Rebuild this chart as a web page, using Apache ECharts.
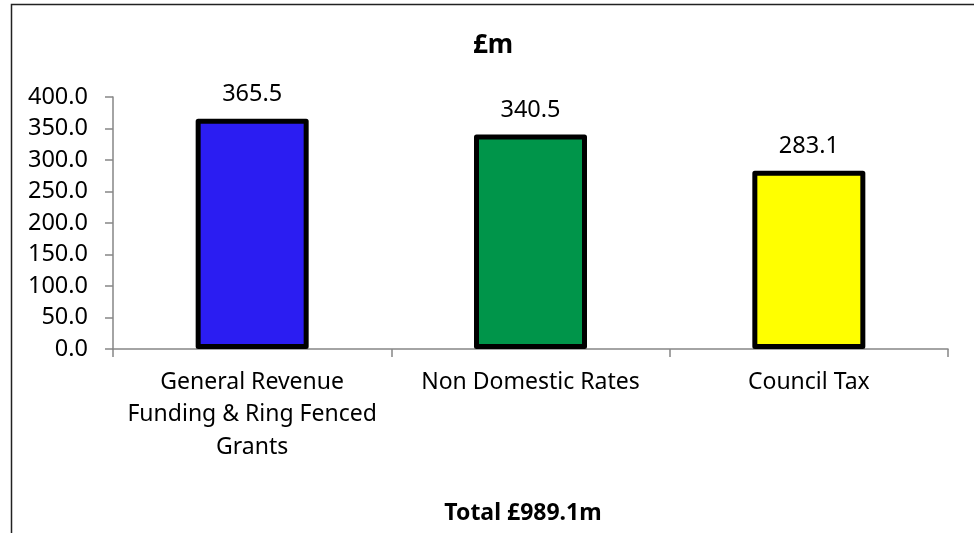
<!DOCTYPE html>
<html>
<head>
<meta charset="utf-8">
<script src="https://cdn.jsdelivr.net/npm/echarts@6/dist/echarts.min.js"></script>
<style>
  html, body { margin: 0; padding: 0; background: #fff; }
  #chart { width: 974px; height: 533px; }
</style>
</head>
<body>
<div id="chart"></div>
<script>
// chart data
const categories = ['General Revenue\nFunding & Ring Fenced\nGrants', 'Non Domestic Rates', 'Council Tax']
const values = [365.5, 340.5, 283.1]
const barColors = ['#2B1DF2', '#00954A', '#FFFF00']
const titleText = '£m'
const totalText = 'Total £989.1m'

const font = '"Noto Sans", "Open Sans", sans-serif'
const chart = echarts.init(document.getElementById('chart'))

const option = {
  animation: false,
  backgroundColor: '#fff',
  grid: {
    left: 113,
    right: 26,
    top: 97,
    bottom: 184,
    containLabel: false,
  },
  graphic: [
    {
      type: 'rect',
      shape: { x: 11.5, y: 4.5, width: 1100, height: 700 },
      style: { fill: 'none', stroke: '#222', lineWidth: 1.5 },
      silent: true,
      z: 0,
    },
    {
      type: 'text',
      x: 493,
      y: 46,
      style: {
        text: titleText,
        font: 'bold 26px ' + font,
        fill: '#000',
        textAlign: 'center',
        textVerticalAlign: 'middle',
      },
    },
    {
      type: 'text',
      x: 523,
      y: 513,
      style: {
        text: totalText,
        font: 'bold 23px ' + font,
        fill: '#000',
        textAlign: 'center',
        textVerticalAlign: 'middle',
      },
    },
  ],
  xAxis: {
    type: 'category',
    data: categories,
    axisLine: { lineStyle: { color: '#868686', width: 1.5 } },
    axisTick: { show: true, length: 8, alignWithLabel: false, lineStyle: { color: '#868686', width: 1.5 } },
    axisLabel: {
      interval: 0,
      margin: 17,
      color: '#000',
      fontFamily: font,
      fontSize: 23,
      lineHeight: 32.5,
      align: 'center',
    },
  },
  yAxis: {
    type: 'value',
    min: 0,
    max: 400,
    interval: 50,
    axisLine: { show: true, lineStyle: { color: '#868686', width: 1.5 } },
    axisTick: { show: true, length: 8, lineStyle: { color: '#868686', width: 1.5 } },
    splitLine: { show: false },
    axisLabel: {
      margin: 25,
      color: '#000',
      fontFamily: font,
      fontSize: 23.5,
      formatter: (v) => v.toFixed(1),
    },
  },
  series: [
    {
      type: 'bar',
      barWidth: 113,
      data: values.map((v, i) => ({
        value: v,
        itemStyle: { color: barColors[i] },
      })),
      itemStyle: {
        borderColor: '#000',
        borderWidth: 5,
        borderJoin: 'round',
      },
      label: {
        show: true,
        position: 'top',
        distance: 12,
        color: '#000',
        fontFamily: font,
        fontSize: 23.5,
        formatter: (p) => p.value.toFixed(1),
      },
    },
  ],
}

chart.setOption(option)
</script>
</body>
</html>
